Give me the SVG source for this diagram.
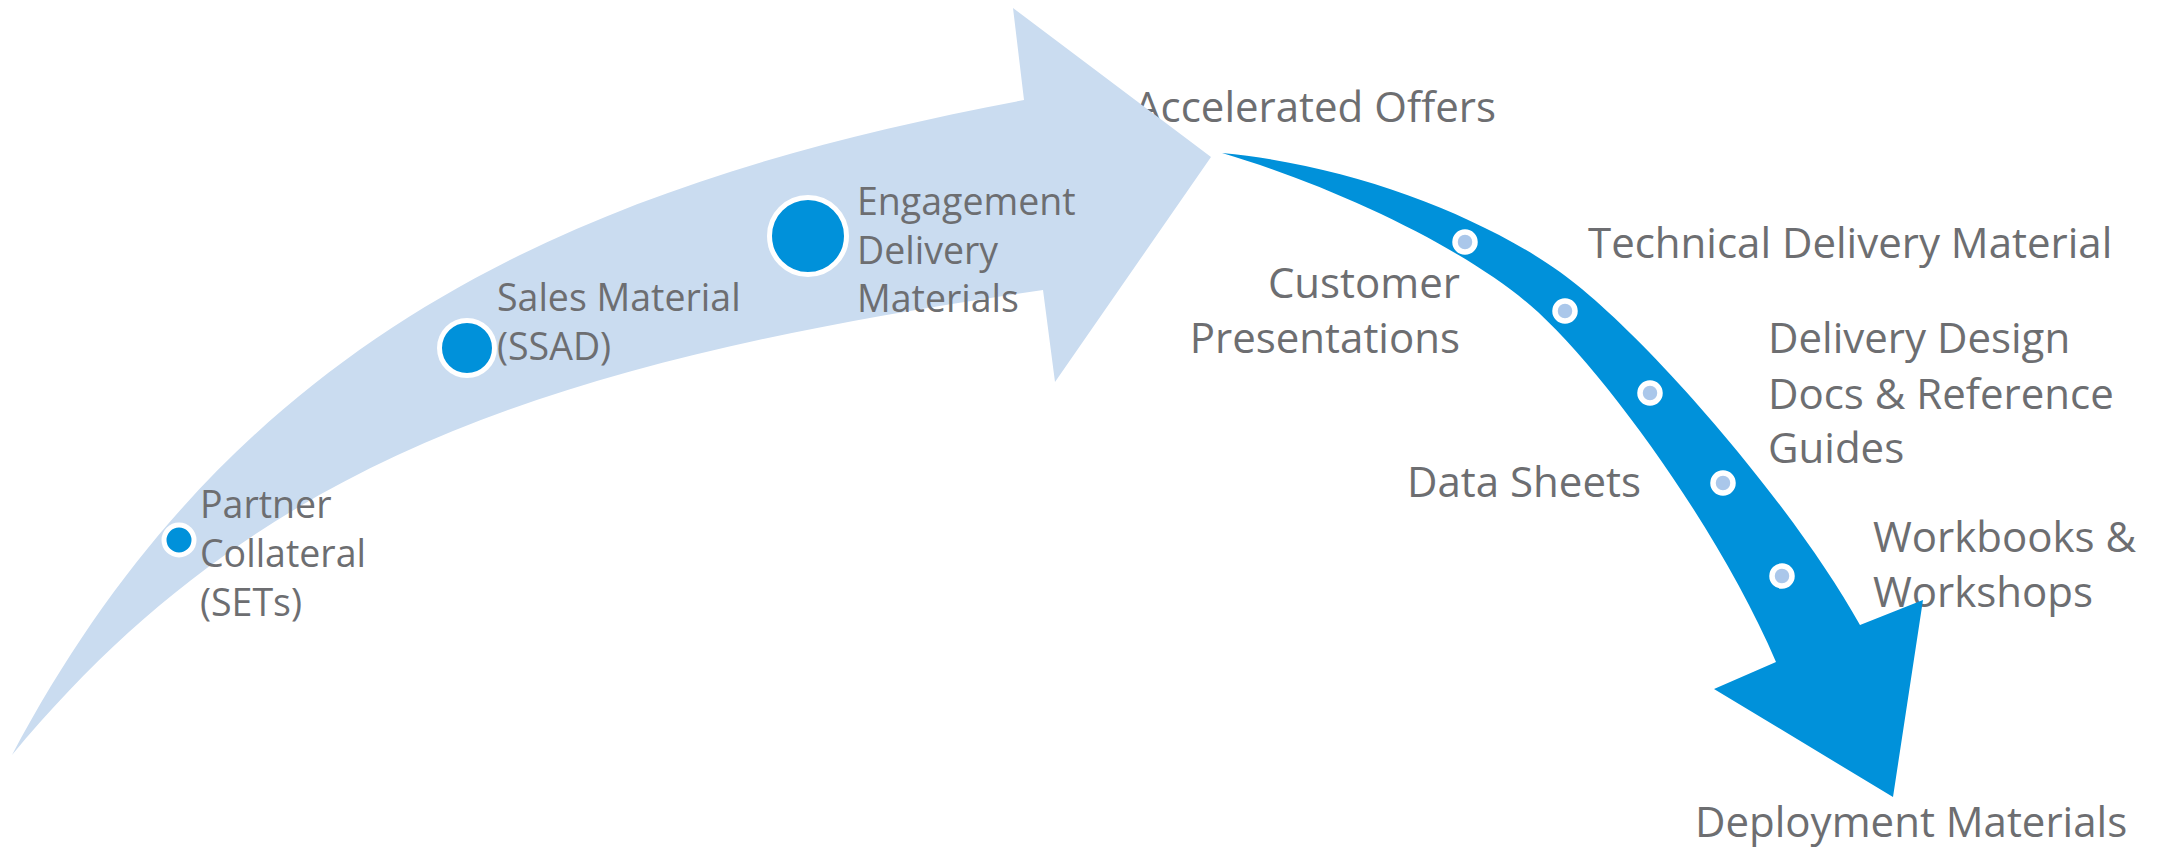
<svg xmlns="http://www.w3.org/2000/svg" width="2166" height="849" viewBox="0 0 2166 849">
  <style>
    .lbl { font-family: "Open Sans", "Noto Sans", sans-serif; fill: #6d6e71; }
    .big { font-size: 42px; }
    .small { font-size: 37.5px; }
    .end { text-anchor: end; }
    .band-light { fill: #cadcf0; }
    .band-dark { fill: #0091da; }
    .dot-main { fill: #0091da; stroke: #ffffff; stroke-width: 5; }
    .dot-step { fill: #aac7ea; stroke: #ffffff; stroke-width: 5.5; }
  </style>

  <rect width="2166" height="849" fill="#ffffff"/>

  <!-- labels sitting underneath the arrow shapes -->
  <g id="accelerated-offers">
    <text class="lbl big" x="1134" y="122">Accelerated Offers</text>
  </g>
  <g id="workbooks">
    <text class="lbl big" x="1873" y="552">Workbooks &amp;</text>
    <text class="lbl big" x="1873" y="607">Workshops</text>
  </g>

  <!-- the two curved flow arrows -->
  <g id="connectors">
    <path class="band-light" d="M12,755 C232,340 570,185 1024,100 L1013,8 L1211,157 L1055,382 L1043,290 C543,362 252,465 12,755 Z"/>
    <path class="band-dark" d="M1222,153 C1350,165 1480,215 1560,272 S1790,500 1860,625 L1923,600 L1893,797 L1714,689 L1776,662 C1720,530 1600,365 1530,305 S1330,185 1222,153 Z"/>
  </g>

  <g id="partner-collateral">
    <circle class="dot-main" cx="179" cy="540" r="15"/>
    <text class="lbl small" x="200" y="518">Partner</text>
    <text class="lbl small" x="200" y="567">Collateral</text>
    <text class="lbl small" x="200" y="616">(SETs)</text>
  </g>

  <g id="sales-material">
    <circle class="dot-main" cx="467" cy="348" r="27.5"/>
    <text class="lbl small" x="497" y="311">Sales Material</text>
    <text class="lbl small" x="497" y="360">(SSAD)</text>
  </g>

  <g id="engagement-delivery">
    <circle class="dot-main" cx="808" cy="236" r="38.5"/>
    <text class="lbl small" x="857" y="215">Engagement</text>
    <text class="lbl small" x="857" y="264">Delivery</text>
    <text class="lbl small" x="857" y="312">Materials</text>
  </g>

  <g id="customer-presentations">
    <circle class="dot-step" cx="1465" cy="242" r="10"/>
    <text class="lbl big end" x="1460" y="298">Customer</text>
    <text class="lbl big end" x="1460" y="353">Presentations</text>
  </g>

  <g id="technical-delivery">
    <circle class="dot-step" cx="1565" cy="311" r="10"/>
    <text class="lbl big" x="1588" y="258">Technical Delivery Material</text>
  </g>

  <g id="delivery-design">
    <circle class="dot-step" cx="1650" cy="393" r="10"/>
    <text class="lbl big" x="1768" y="353">Delivery Design</text>
    <text class="lbl big" x="1768" y="409">Docs &amp; Reference</text>
    <text class="lbl big" x="1768" y="463">Guides</text>
  </g>

  <g id="data-sheets">
    <circle class="dot-step" cx="1723" cy="483" r="10"/>
    <text class="lbl big end" x="1641" y="497">Data Sheets</text>
  </g>

  <g id="workshops-dot">
    <circle class="dot-step" cx="1782" cy="576" r="10"/>
  </g>

  <g id="deployment-materials">
    <text class="lbl big" x="1695" y="837">Deployment Materials</text>
  </g>
</svg>
